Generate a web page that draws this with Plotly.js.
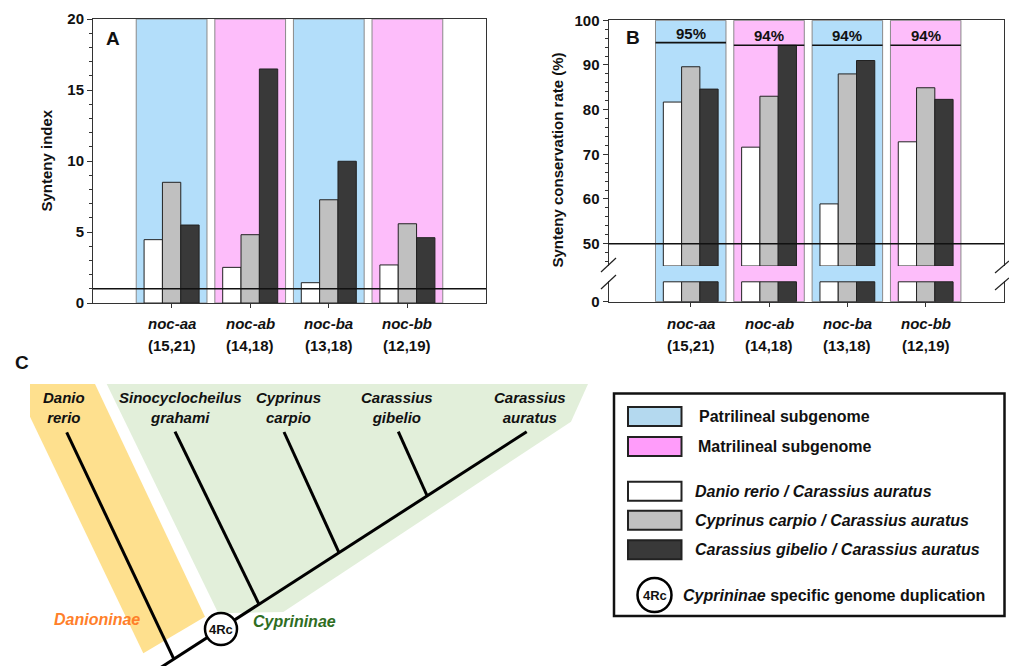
<!DOCTYPE html>
<html>
<head>
<meta charset="utf-8">
<script src="https://cdn.plot.ly/plotly-3.0.1.min.js"></script>
<style>html,body{margin:0;padding:0;background:#fff;}#chart{width:1009px;height:666px;}</style>
</head>
<body>
<div id="chart"></div>
<script>
// ---------- data ----------
const categories = ['noc-aa', 'noc-ab', 'noc-ba', 'noc-bb'];
const pairLabels = ['(15,21)', '(14,18)', '(13,18)', '(12,19)'];
const subgenomes = ['Patrilineal', 'Matrilineal', 'Patrilineal', 'Matrilineal'];
const seriesNames = ['Danio rerio / Carassius auratus', 'Cyprinus carpio / Carassius auratus', 'Carassius gibelio / Carassius auratus'];
// Panel A: synteny index
const syntenyDanio = [4.46, 2.51, 1.43, 2.68];
const syntenyCyprinus = [8.5, 4.81, 7.27, 5.58];
const syntenyGibelio = [5.49, 16.48, 9.98, 4.6];
const syntenyThreshold = 1;
// Panel B: synteny conservation rate (%)
const rateDanio = [81.7, 71.6, 58.9, 72.8];
const rateCyprinus = [89.6, 83.0, 88.0, 84.9];
const rateGibelio = [84.6, 94.4, 91.0, 82.3];
const overallRate = [95.0, 94.4, 94.4, 94.4];
const rateThreshold = 50;
// Panel C: phylogeny tip labels
const species = ['Danio<br>rerio', 'Sinocyclocheilus<br>grahami', 'Cyprinus<br>carpio', 'Carassius<br>gibelio', 'Carassius<br>auratus'];
const subfamilies = ['Danioninae', 'Cyprininae'];

// ---------- helpers ----------
const W = 1009, H = 666;
const px = x => x / W;
const py = y => 1 - y / H;
const FONT = 'Liberation Sans, Arial, sans-serif';
const pos = categories.map((c, i) => i + 1);
const seriesColors = ['#ffffff', '#c0c0c0', '#393939'];
const bandColors = {Patrilineal: '#b3defa', Matrilineal: '#fdbdfa'};
const breakLow = 45;   // lower end of the upper (broken) segment in panel B
const stubTop = 5;     // height of the stub drawn under the break

function barTrace(vals, k, xa, ya, extra) {
  return Object.assign({
    type: 'bar', x: pos, y: vals, name: seriesNames[k], xaxis: xa, yaxis: ya,
    marker: {color: seriesColors[k], line: {color: '#222', width: 1}},
    showlegend: false, hoverinfo: 'y+name'
  }, extra || {});
}

const aSeries = [syntenyDanio, syntenyCyprinus, syntenyGibelio];
const bSeries = [rateDanio, rateCyprinus, rateGibelio];
const traces = [];
aSeries.forEach((s, k) => traces.push(barTrace(s, k, 'x', 'y')));
bSeries.forEach((s, k) => traces.push(barTrace(s.map(v => v - breakLow), k, 'x3', 'y3', {base: breakLow, customdata: s, hovertemplate: '%{customdata}%'})));
bSeries.forEach((s, k) => traces.push(barTrace(s.map(v => Math.min(v, stubTop)), k, 'x2', 'y2', {hoverinfo: 'skip'})));

const tickFont = {family: FONT, size: 15, color: '#111', weight: 'bold'};
const shapes = [];
const annotations = [];
function ann(o) {
  annotations.push(Object.assign({xanchor: 'center', yanchor: 'middle', showarrow: false}, o));
}
function pann(x, y, text, size, extra) {
  ann(Object.assign({xref: 'paper', yref: 'paper', x: px(x), y: py(y), text: text, font: {family: FONT, size: size, color: '#111'}}, extra || {}));
}

// subgenome background bands
categories.forEach((c, i) => {
  const col = bandColors[subgenomes[i]];
  shapes.push({type: 'rect', layer: 'below', xref: 'x', yref: 'y domain', x0: pos[i] - 0.45, x1: pos[i] + 0.45, y0: 0, y1: 1,
    fillcolor: col, line: {color: '#8a8a8a', width: 1}});
  shapes.push({type: 'rect', layer: 'below', xref: 'x2', yref: 'paper', x0: pos[i] - 0.45, x1: pos[i] + 0.45, y0: py(301.7), y1: py(20.3),
    fillcolor: col, line: {color: '#8a8a8a', width: 1}});
  // overall rate line + label
  shapes.push({type: 'line', xref: 'x3', yref: 'y3', x0: pos[i] - 0.45, x1: pos[i] + 0.45, y0: overallRate[i], y1: overallRate[i], line: {color: '#111', width: 1.6}});
  ann({xref: 'x3', yref: 'y3', x: pos[i], y: overallRate[i], yanchor: 'bottom', yshift: -1,
    text: '<b>' + Math.round(overallRate[i]) + '%</b>', font: {family: FONT, size: 15, color: '#111'}});
  // category labels
  ['x', 'x2'].forEach(xa => {
    ann({xref: xa, yref: 'paper', x: pos[i], y: py(323), text: '<b><i>' + c + '</i></b>', font: {family: FONT, size: 15, color: '#111'}});
    ann({xref: xa, yref: 'paper', x: pos[i], y: py(345), text: '<b>' + pairLabels[i] + '</b>', font: {family: FONT, size: 15, color: '#111'}});
  });
});

// threshold lines
shapes.push({type: 'line', xref: 'x domain', yref: 'y', x0: 0, x1: 1, y0: syntenyThreshold, y1: syntenyThreshold, line: {color: '#111', width: 1.5}});
shapes.push({type: 'line', xref: 'x3 domain', yref: 'y3', x0: 0, x1: 1, y0: rateThreshold, y1: rateThreshold, line: {color: '#111', width: 1.5}});

// axis break marks (panel B)
[[601, 272, 616, 258], [601, 289, 616, 275], [995, 273, 1009, 261], [995, 290, 1009, 278]].forEach(s => {
  shapes.push({type: 'line', xref: 'paper', yref: 'paper', x0: px(s[0]), y0: py(s[1]), x1: px(s[2]), y1: py(s[3]), line: {color: '#222', width: 1.2}});
});

// panel letters and axis titles
pann(113, 39, '<b>A</b>', 19);
pann(633, 37, '<b>B</b>', 19);
pann(22, 362, '<b>C</b>', 19);
pann(45.5, 161, '<b>Synteny index</b>', 15, {textangle: -90});
pann(556.5, 160, '<b>Synteny conservation rate (%)</b>', 15, {textangle: -90});

// ---------- panel C: phylogeny ----------
const pathPx = pts => 'M ' + pts.map(p => px(p[0]) + ',' + py(p[1])).join(' L ') + ' Z';
shapes.push({type: 'path', xref: 'paper', yref: 'paper', layer: 'below', path: pathPx([[30, 384], [95, 384], [205, 616.7], [143.3, 653.3], [30, 416.7]]), fillcolor: '#fee08e', line: {width: 0}});
shapes.push({type: 'path', xref: 'paper', yref: 'paper', layer: 'below', path: pathPx([[106.7, 384], [588, 384], [571, 421.7], [283.3, 612], [218.3, 613.3]]), fillcolor: '#e2efda', line: {width: 0}});
const branches = [
  [[160, 668], [526.7, 431.7]],  // backbone to Carassius auratus
  [[66.7, 432.3], [174, 659.3]], // Danio rerio
  [[175, 431.7], [259, 604.3]],  // Sinocyclocheilus grahami
  [[284, 432], [339, 552.7]],    // Cyprinus carpio
  [[398.3, 431.7], [427, 495.5]] // Carassius gibelio
];
branches.forEach(b => shapes.push({type: 'line', xref: 'paper', yref: 'paper', x0: px(b[0][0]), y0: py(b[0][1]), x1: px(b[1][0]), y1: py(b[1][1]), line: {color: '#000', width: 3}}));
function circlePx(cx, cy, r, w) {
  return {type: 'circle', xref: 'paper', yref: 'paper', x0: px(cx - r), x1: px(cx + r), y0: py(cy + r), y1: py(cy - r), fillcolor: '#fff', line: {color: '#000', width: w}};
}
shapes.push(circlePx(221, 629, 16, 2.5));
pann(221, 629, '<b>4Rc</b>', 13);
const tipX = [64, 180, 288.7, 397, 530];
species.forEach((s, i) => pann(tipX[i], 407, '<b><i>' + s + '</i></b>', 15));
pann(96.7, 619.5, '<b><i>' + subfamilies[0] + '</i></b>', 16, {font: {family: FONT, size: 16, color: '#ff7f2a'}});
pann(294, 621.5, '<b><i>' + subfamilies[1] + '</i></b>', 16, {font: {family: FONT, size: 16, color: '#2f6e1f'}});

// ---------- legend box ----------
shapes.push({type: 'rect', xref: 'paper', yref: 'paper', x0: px(614), x1: px(1004.5), y0: py(616), y1: py(393.5), line: {color: '#111', width: 2.5}, fillcolor: 'rgba(0,0,0,0)'});
const legendItems = [
  {fill: '#b4d9ef', y: 416.5, text: '<b>Patrilineal subgenome</b>', tx: 696.5},
  {fill: '#ff9cfa', y: 446.5, text: '<b>Matrilineal subgenome</b>', tx: 695.5},
  {fill: seriesColors[0], y: 491.3, text: '<b><i>' + seriesNames[0] + '</i></b>', tx: 693},
  {fill: seriesColors[1], y: 520.3, text: '<b><i>' + seriesNames[1] + '</i></b>', tx: 693},
  {fill: seriesColors[2], y: 549.8, text: '<b><i>' + seriesNames[2] + '</i></b>', tx: 693}
];
legendItems.forEach(it => {
  shapes.push({type: 'rect', xref: 'paper', yref: 'paper', x0: px(628), x1: px(681.5), y0: py(it.y + 9.5), y1: py(it.y - 9.5), fillcolor: it.fill, line: {color: '#222', width: 2}});
  pann(it.tx, it.y, it.text, 16, {xanchor: 'left'});
});
shapes.push(circlePx(654.5, 595, 17, 2.5));
pann(654.5, 595, '<b>4Rc</b>', 13);
pann(681, 595, '<b><i>Cyprininae</i> specific genome duplication</b>', 16, {xanchor: 'left'});

// ---------- layout ----------
const axisBase = {showgrid: false, zeroline: false, showline: true, linecolor: '#333', linewidth: 1, tickcolor: '#333', tickfont: tickFont, fixedrange: true};
const layout = {
  width: W, height: H, margin: {l: 0, r: 0, t: 0, b: 0},
  paper_bgcolor: '#fff', plot_bgcolor: 'rgba(0,0,0,0)',
  barmode: 'group', bargap: 0.3, bargroupgap: 0, showlegend: false,
  font: {family: FONT, color: '#111'},
  xaxis: Object.assign({}, axisBase, {domain: [px(93), px(486)], range: [0, 5], anchor: 'y', mirror: true,
    tickmode: 'array', tickvals: pos, ticks: 'outside', ticklen: 4, showticklabels: false}),
  yaxis: Object.assign({}, axisBase, {domain: [py(303), py(19)], range: [0, 20], anchor: 'x', mirror: true,
    tickmode: 'linear', tick0: 0, dtick: 5, ticks: 'outside', ticklen: 5,
    minor: {tickmode: 'linear', tick0: 0, dtick: 1, ticks: 'outside', ticklen: 3, tickcolor: '#333'}}),
  xaxis2: Object.assign({}, axisBase, {domain: [px(608.5), px(1004)], range: [-0.05, 5], anchor: 'y2',
    tickmode: 'array', tickvals: pos, ticks: 'outside', ticklen: 4, showticklabels: false}),
  xaxis3: Object.assign({}, axisBase, {domain: [px(608.5), px(1004)], range: [-0.05, 5], anchor: 'y3', side: 'top',
    ticks: '', showticklabels: false}),
  yaxis2: Object.assign({}, axisBase, {domain: [py(301.7), py(281)], range: [0, 5.2], anchor: 'x2', mirror: true,
    tickmode: 'array', tickvals: [0], ticktext: ['0'], ticks: 'outside', ticklen: 5}),
  yaxis3: Object.assign({}, axisBase, {domain: [py(266), py(20.3)], range: [breakLow, 100], anchor: 'x3', mirror: true,
    tickmode: 'linear', tick0: 50, dtick: 10, ticks: 'outside', ticklen: 5,
    minor: {tickmode: 'linear', tick0: 0, dtick: 2, ticks: 'outside', ticklen: 3, tickcolor: '#333'}}),
  shapes: shapes,
  annotations: annotations
};
Plotly.newPlot('chart', traces, layout, {displayModeBar: false, staticPlot: true});
</script>
</body>
</html>
